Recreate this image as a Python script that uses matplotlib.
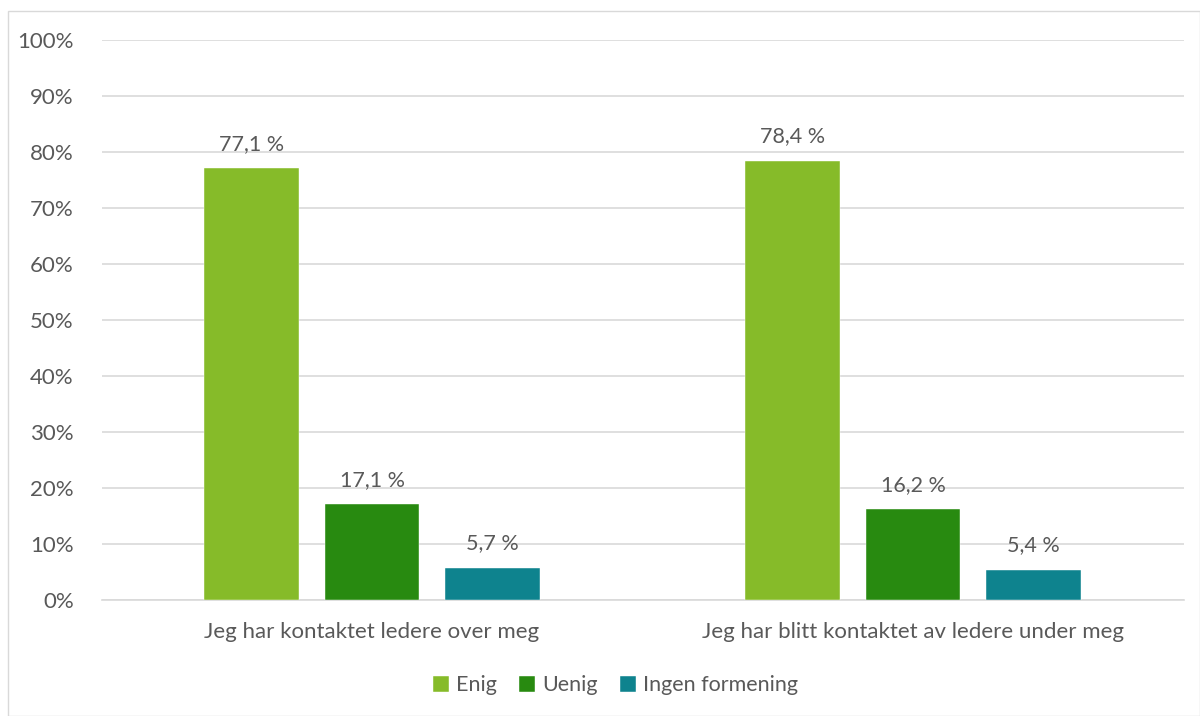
import matplotlib.pyplot as plt
import numpy as np
from matplotlib.patches import Rectangle

plt.rcParams['font.family'] = ['Lato', 'DejaVu Sans']

categories = ['Jeg har kontaktet ledere over meg', 'Jeg har blitt kontaktet av ledere under meg']
series = ['Enig', 'Uenig', 'Ingen formening']
enig = [77.1, 78.4]
uenig = [17.1, 16.2]
ingen = [5.7, 5.4]
colors = ['#86BB29', '#288A10', '#0E838E']
txt = '#595959'

fig = plt.figure(figsize=(12, 7.16), dpi=100)
fig.patches.append(Rectangle((8 / 1200, 0), 1 - 8 / 1200, 1 - 11 / 716, transform=fig.transFigure,
                             fill=False, edgecolor='#D9D9D9', linewidth=1))
ax = fig.add_axes([101.5 / 1200, 1 - 600 / 716, 1082 / 1200, 560 / 716])

x = np.arange(len(categories))
w = 0.1756
off = 0.222
for i, (vals, name) in enumerate(zip([enig, uenig, ingen], series)):
    bars = ax.bar(x + (i - 1) * off, vals, w, color=colors[i], label=name, zorder=3,
                  edgecolor='white', linewidth=0.3)
    for b, v in zip(bars, vals):
        ax.text(b.get_x() + b.get_width() / 2, v + 2.6, f'{v:.1f} %'.replace('.', ','),
                ha='center', va='bottom', fontsize=15.5, color=txt)

ax.set_xlim(-0.5, 1.5)
ax.set_ylim(0, 100)
ax.set_yticks(range(0, 101, 10))
ax.set_yticklabels([f'{t}%' for t in range(0, 101, 10)])
ax.set_xticks(x)
ax.set_xticklabels(categories)
ax.tick_params(axis='both', length=0, labelsize=16, labelcolor=txt)
ax.tick_params(axis='y', pad=20)
ax.tick_params(axis='x', pad=16)
ax.grid(axis='y', color='#D9D9D9', linewidth=1.2, zorder=0)
for s in ['top', 'right', 'left']:
    ax.spines[s].set_visible(False)
ax.spines['bottom'].set_color('#D9D9D9')
ax.spines['bottom'].set_linewidth(1.2)

ax.legend(loc='upper center', bbox_to_anchor=(0.475, -0.1), ncol=3, frameon=False,
          fontsize=15.5, labelcolor=txt, handlelength=0.75, handleheight=0.75,
          handletextpad=0.35, columnspacing=1.0)

plt.savefig('out.png', dpi=100)
